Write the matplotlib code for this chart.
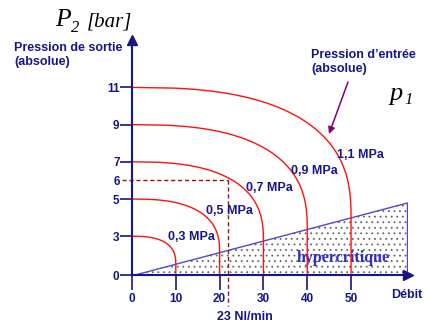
import numpy as np
import matplotlib
matplotlib.use("Agg")
import matplotlib.pyplot as plt

# ---- data ------------------------------------------------------------------
P1_BAR = [3, 5, 7, 9, 11]                 # inlet pressure (bar abs)
Q_MAX = [10, 20, 30, 40, 50]              # choked flow (Nl/min)
CURVE_LABELS = ["0,3 MPa", "0,5 MPa", "0,7 MPa", "0,9 MPa", "1,1 MPa"]
Y_TICKS = [0, 3, 5, 6, 7, 9, 11]
X_TICKS = [0, 10, 20, 30, 40, 50]
CRIT_Q = [0.7, 62.8]                      # critical line, flow ends
CRIT_P = [0.0, 4.78]                      # critical line, pressure ends
DASH_Q = 22
DASH_P = 6
SHAPE_N = 2.6                             # squareness of the flow curves

# ---- style -----------------------------------------------------------------
NAVY = "#16168a"
RED = "#ff1010"
DIAG = "#4a4ad0"
DASH = "#a01010"
PURPLE = "#800080"
W, H = 426, 324
SANS = "Liberation Sans"
SERIF = "Liberation Serif"

plt.rcParams["font.family"] = [SANS, "DejaVu Sans"]
plt.rcParams["hatch.linewidth"] = 0.6

U0 = 0.914   # the drawing squeezes 0..3 bar on the pressure axis


def fwd(v):
    v = np.asarray(v, float)
    return np.where(v < 3, U0 + v * (3 - U0) / 3, v)


def inv(u):
    u = np.asarray(u, float)
    return np.where(u < 3, (u - U0) * 3 / (3 - U0), u)


def px(x, y):
    return x / W, 1 - y / H


def crit_u(q):
    return np.interp(q, CRIT_Q, fwd(CRIT_P))


fig = plt.figure(figsize=(W / 100, H / 100), dpi=100)
fig.patch.set_facecolor("white")
ax = fig.add_axes([132 / W, (H - 275) / H, (408 - 132) / W, (275 - 40) / H])
ax.set_yscale("function", functions=(fwd, inv))
ax.set_xlim(0, 63.0)
ax.set_ylim(0, 13.55)
ax.patch.set_visible(False)
for s in ("top", "right"):
    ax.spines[s].set_visible(False)
for s in ("left", "bottom"):
    ax.spines[s].set_color(NAVY)
    ax.spines[s].set_linewidth(1.5)
    ax.spines[s].set_zorder(6)

# axis arrow heads
ax.plot([0], [1], marker="^", ms=7, color=NAVY, transform=ax.transAxes, clip_on=False, zorder=7)
ax.plot([1], [0], marker=">", ms=7, color=NAVY, transform=ax.transAxes, clip_on=False, zorder=7)

# ticks
ax.set_yticks(Y_TICKS)
ax.set_yticklabels([str(t) for t in Y_TICKS])
ax.yaxis.set_minor_locator(matplotlib.ticker.NullLocator())
ax.tick_params(axis="y", direction="out", length=9, width=1.2, color=NAVY,
               labelcolor=NAVY, labelsize=8.5, pad=0)
ax.yaxis.get_major_ticks()[Y_TICKS.index(DASH_P)].tick1line.set_visible(False)
for lab in ax.get_yticklabels():
    lab.set_fontweight("bold")
ax.set_xticks(X_TICKS)
ax.set_xticklabels([str(t) for t in X_TICKS])
ax.tick_params(axis="x", direction="out", length=11, width=1.2, color=NAVY,
               labelcolor=NAVY, labelsize=8.5, pad=2)
for lab in ax.get_xticklabels():
    lab.set_fontweight("bold")

# hypercritical zone
tri_q = [CRIT_Q[0], CRIT_Q[1], CRIT_Q[1]]
tri_p = [CRIT_P[0], CRIT_P[0], CRIT_P[1]]
ax.fill(tri_q, tri_p, facecolor="white", edgecolor="#666666", hatch="...", lw=0, zorder=2)
ax.plot(CRIT_Q, CRIT_P, color=DIAG, lw=1.0, zorder=3)
ax.plot([CRIT_Q[1], CRIT_Q[1]], CRIT_P, color=DIAG, lw=1.0, zorder=3)
ax.text(48.3, 1.3, "hypercritique", family=SERIF, weight="bold", fontsize=11.5,
        color="#3030c0", ha="center", va="center", zorder=4)

# flow curves
s = np.linspace(1, 0, 200)
for p1, qm in zip(P1_BAR, Q_MAX):
    uc = float(crit_u(qm))
    u1 = float(fwd(p1))
    q = qm * (1 - s ** SHAPE_N) ** (1 / SHAPE_N)
    u = uc + s * (u1 - uc)
    ax.plot(np.append(q, qm), np.append(inv(u), 0.15), color=RED, lw=1.0, zorder=5)

# operating point
ax.plot([-2.3, DASH_Q], [DASH_P, DASH_P], color=DASH, lw=1.0, ls=(0, (3, 2)),
        clip_on=False, zorder=4)
ax.plot([DASH_Q, DASH_Q], [DASH_P, -2.4], color=DASH, lw=1.0, ls=(0, (3, 2)),
        clip_on=False, zorder=4)

# labels
lab_pos = [(191, 237), (229, 211), (269, 188), (314, 171), (360, 155)]
for txt, (x, y) in zip(CURVE_LABELS, lab_pos):
    fig.text(*px(x, y), txt, ha="center", va="center", fontsize=9,
             weight="bold", color=NAVY)

fig.text(*px(245, 317), "23 Nl/min", ha="center", va="center", fontsize=9,
         weight="bold", color=NAVY)
fig.text(*px(407, 295), "Débit", ha="center", va="center", fontsize=9,
         weight="bold", color=NAVY)
fig.text(*px(14, 55), "Pression de sortie\n(absolue)", ha="left", va="center",
         fontsize=9, weight="bold", color=NAVY, linespacing=1.2)
fig.text(*px(311, 62), "Pression d\u2019entrée\n(absolue)", ha="left", va="center",
         fontsize=9, weight="bold", color=NAVY, linespacing=1.2)

fig.text(*px(55, 26), "P", family=SERIF, style="italic", fontsize=18.5,
         ha="left", va="baseline", color="black")
fig.text(*px(71, 32), "2", family=SERIF, style="italic", fontsize=12,
         ha="left", va="baseline", color="black")
fig.text(*px(87, 26), "[bar]", family=SERIF, style="italic", fontsize=15,
         ha="left", va="baseline", color="black")
fig.text(*px(390, 100), "p", family=SERIF, style="italic", fontsize=19,
         ha="left", va="baseline", color="black")
fig.text(*px(404, 104), "1", family=SERIF, style="italic", fontsize=12,
         ha="left", va="baseline", color="black")

ax.annotate("", xy=px(329, 134), xycoords="figure fraction",
            xytext=px(348, 82), textcoords="figure fraction",
            arrowprops=dict(arrowstyle="-|>", color=PURPLE, lw=1.1,
                            mutation_scale=10, shrinkA=0, shrinkB=0))

fig.savefig("out.png", dpi=100, facecolor="white")
